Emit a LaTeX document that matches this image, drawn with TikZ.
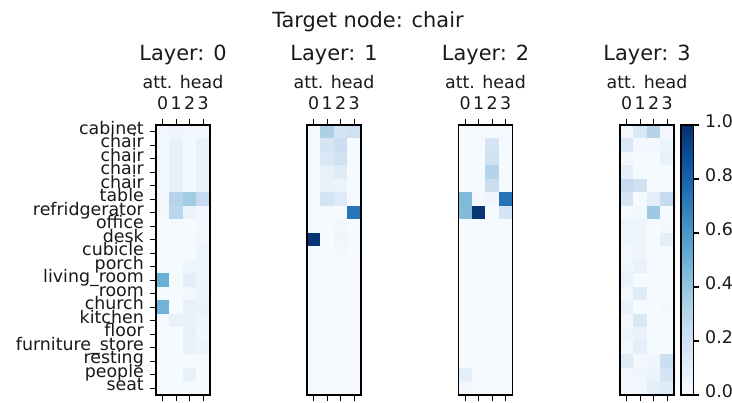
\documentclass[tikz,border=0pt]{standalone}
\usepackage{fontspec}
\setmainfont{DejaVu Sans}
\definecolor{B0}{HTML}{F7FBFF}
\definecolor{B1}{HTML}{DEEBF7}
\definecolor{B2}{HTML}{C6DBEF}
\definecolor{B3}{HTML}{9ECAE1}
\definecolor{B4}{HTML}{6BAED6}
\definecolor{B5}{HTML}{4292C6}
\definecolor{B6}{HTML}{2171B5}
\definecolor{B7}{HTML}{08519C}
\definecolor{B8}{HTML}{08306B}
\definecolor{txt}{HTML}{1A1A1A}
\newcommand\bluefill[1]{%
  \pgfmathsetmacro\vv{min(max(#1,0),1)*8}%
  \pgfmathtruncatemacro\ii{min(floor(\vv),7)}%
  \pgfmathtruncatemacro\jj{\ii+1}%
  \pgfmathtruncatemacro\ff{round((\vv-\ii)*100)}%
  \colorlet{cur}{B\jj!\ff!B\ii}%
}
\newcommand\tickfont{\fontsize{17.4bp}{20bp}\selectfont}
\newcommand\titfont{\fontsize{20.9bp}{24bp}\selectfont}
\tikzset{
  frame/.style={draw=black, line width=1.3bp, inner sep=0pt, outer sep=0pt, anchor=north west, fill=none},
  tickmark/.style={draw=black, line width=1.3bp},
  ticklab/.style={inner sep=0pt, text=txt, font=\tickfont},
  titlab/.style={inner sep=0pt, text=txt, font=\titfont, anchor=base},
}
% #1 x0, #2 name, #3 layer number, #4 rows
\newcommand\heatmap[4]{%
  \foreach \a/\b/\c/\d [count=\r from 0] in {#4} {
    \foreach \v [count=\k from 0] in {\a,\b,\c,\d} {
      \bluefill{\v}
      \fill[cur] ({#1+\k*13.5-0.05},{125+\r*13.5-0.05}) rectangle ++(13.6,13.6);
    }
  }
  \node[frame, minimum width=54bp, minimum height=270bp] (#2) at (#1,125) {};
  \foreach \k in {0,1,2,3} {
    \draw[tickmark] ({#1+6.75+13.5*\k},125) -- ++(0,-6);
    \draw[tickmark] ({#1+6.75+13.5*\k},395) -- ++(0,6);
    \node[ticklab, anchor=base] (#2x\k) at ({#1+6.75+13.5*\k},109.5) {\k};
  }
  \node[ticklab, anchor=base] (#2head) at ({#1+27},88) {att. head};
  \node[titlab] (#2title) at ({#1+27},60) {Layer: #3};
}
\begin{document}
\begin{tikzpicture}[x=1bp,y=-1bp]
\useasboundingbox (0,0) rectangle (732,402);
\fill[white] (0,0) rectangle (732,402);
\node[titlab] (maintitle) at (368,27) {Target node: chair};
% Layer 0
\heatmap{156}{Lzero}{0}{
0.02/0.05/0.02/0.03,
0.02/0.08/0.02/0.08,
0.02/0.08/0.02/0.08,
0.02/0.08/0.02/0.08,
0.02/0.08/0.02/0.08,
0.02/0.30/0.36/0.25,
0.02/0.28/0.06/0.02,
0.01/0.01/0.01/0.02,
0.01/0.01/0.01/0.03,
0.01/0.01/0.01/0.05,
0.01/0.01/0.05/0.05,
0.50/0.01/0.10/0.05,
0.01/0.01/0.03/0.06,
0.48/0.01/0.08/0.07,
0.01/0.07/0.08/0.05,
0.01/0.01/0.08/0.04,
0.01/0.01/0.07/0.06,
0.01/0.01/0.01/0.01,
0.01/0.01/0.08/0.01,
0.01/0.01/0.01/0.01}
% Layer 1
\heatmap{307}{Lone}{1}{
0.01/0.33/0.18/0.20,
0.01/0.17/0.22/0.01,
0.01/0.15/0.20/0.01,
0.01/0.08/0.12/0.01,
0.01/0.07/0.06/0.01,
0.01/0.18/0.13/0.01,
0.01/0.01/0.01/0.73,
0.01/0.01/0.03/0.01,
0.98/0.01/0.04/0.01,
0.01/0.01/0.02/0.01,
0.005/0.005/0.005/0.005,
0.005/0.005/0.005/0.005,
0.005/0.005/0.005/0.005,
0.005/0.005/0.005/0.005,
0.005/0.005/0.005/0.005,
0.005/0.005/0.005/0.005,
0.005/0.005/0.005/0.005,
0.005/0.005/0.005/0.005,
0.005/0.005/0.005/0.005,
0.005/0.005/0.005/0.005}
% Layer 2
\heatmap{458.5}{Ltwo}{2}{
0.01/0.01/0.01/0.01,
0.01/0.01/0.17/0.01,
0.01/0.01/0.20/0.01,
0.01/0.01/0.30/0.01,
0.01/0.01/0.22/0.01,
0.45/0.02/0.04/0.74,
0.44/0.98/0.01/0.18,
0.005/0.005/0.005/0.005,
0.005/0.005/0.005/0.005,
0.005/0.005/0.005/0.005,
0.005/0.005/0.005/0.005,
0.005/0.005/0.005/0.005,
0.005/0.005/0.005/0.005,
0.005/0.005/0.005/0.005,
0.005/0.005/0.005/0.005,
0.005/0.005/0.005/0.005,
0.005/0.005/0.005/0.005,
0.005/0.005/0.005/0.005,
0.10/0.005/0.005/0.005,
0.03/0.005/0.005/0.005}
% Layer 3
\heatmap{620}{Lthree}{3}{
0.03/0.15/0.30/0.03,
0.15/0.02/0.02/0.06,
0.02/0.01/0.01/0.07,
0.10/0.01/0.01/0.01,
0.25/0.20/0.01/0.01,
0.17/0.01/0.10/0.25,
0.01/0.03/0.38/0.01,
0.05/0.05/0.01/0.02,
0.05/0.05/0.01/0.10,
0.03/0.05/0.01/0.01,
0.04/0.07/0.01/0.01,
0.07/0.01/0.01/0.01,
0.03/0.12/0.01/0.01,
0.07/0.01/0.01/0.02,
0.02/0.15/0.01/0.01,
0.05/0.07/0.01/0.01,
0.03/0.09/0.01/0.01,
0.12/0.02/0.04/0.22,
0.03/0.04/0.06/0.18,
0.02/0.03/0.10/0.12}
% y labels
\foreach \lab [count=\r from 0] in {cabinet,chair,chair,chair,chair,table,refridgerator,office,desk,cubicle,porch,living\_room,room,church,kitchen,floor,furniture\_store,resting,people,seat} {
  \draw[tickmark] (156,{131.75+13.5*\r}) -- (150,{131.75+13.5*\r});
  \node[ticklab, anchor=mid east] (ylab\r) at (144,{131.75+13.5*\r}) {\lab};
}
% colorbar
\foreach \k in {0,...,269} {
  \bluefill{(\k+0.5)/270}
  \fill[cur] (681,{395-\k-1.2}) rectangle (693.3,{395-\k});
}
\node[frame, minimum width=12.3bp, minimum height=270bp] (cbar) at (681,125) {};
\foreach \t [count=\i from 0] in {0.0,0.2,0.4,0.6,0.8,1.0} {
  \draw[tickmark] (693.3,{395-54*\i}) -- ++(6,0);
  \node[ticklab, anchor=mid west] (cb\i) at (705,{395-54*\i}) {\t};
}
\end{tikzpicture}
\end{document}
